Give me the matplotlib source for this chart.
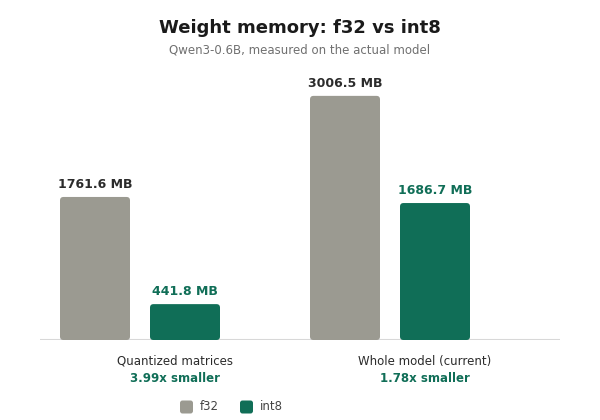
import matplotlib
matplotlib.use("Agg")
import matplotlib.pyplot as plt
from matplotlib.patches import FancyBboxPatch
import numpy as np

categories = ["Quantized matrices", "Whole model (current)"]
ratios = ["3.99x smaller", "1.78x smaller"]
series_names = ["f32", "int8"]
f32_values = [1761.6, 3006.5]
int8_values = [441.8, 1686.7]

GRAY = "#9b9a91"
GREEN = "#106e57"
DARK = "#2b2b2b"

W, H = 600, 420
fig = plt.figure(figsize=(6, 4.2), dpi=100)
# axes in pixel coordinates: left 40, right 560, baseline 340, top 70
ax = fig.add_axes([40 / W, (H - 340) / H, 520 / W, 270 / H])
ymax = 270 / 0.0812
ax.set_xlim(-0.4, 1.68)
ax.set_ylim(0, ymax)
for s in ax.spines.values():
    s.set_visible(False)
ax.set_xticks([])
ax.set_yticks([])
ax.axhline(0, color="#d8d8d8", lw=1.5, zorder=1)

x = np.arange(len(categories))
bw = 0.28
off = 0.18
px_x = 250.0  # px per x unit
px_y = 270 / ymax
aspect = (1 / px_y) / (1 / px_x)
r_px = 3.5

def rbar(xc, h, color):
    ax.add_patch(FancyBboxPatch((xc - bw / 2, 0), bw, h,
                                boxstyle=f"round,pad=0,rounding_size={r_px / px_x}",
                                mutation_aspect=aspect, fc=color, ec="none", zorder=2))

for i in range(len(categories)):
    rbar(x[i] - off, f32_values[i], GRAY)
    rbar(x[i] + off, int8_values[i], GREEN)
    ax.annotate(f"{f32_values[i]:.1f} MB", (x[i] - off, f32_values[i]), xytext=(0, 4.5),
                textcoords="offset points", ha="center", va="bottom",
                fontsize=9, fontweight="bold", color=DARK)
    ax.annotate(f"{int8_values[i]:.1f} MB", (x[i] + off, int8_values[i]), xytext=(0, 4.5),
                textcoords="offset points", ha="center", va="bottom",
                fontsize=9, fontweight="bold", color=GREEN)
    xc_fig = (40 + (x[i] + 0.4) * px_x + 35) / W
    fig.text(xc_fig, 1 - 361 / H, categories[i], ha="center", va="center",
             fontsize=8.5, color=DARK)
    fig.text(xc_fig, 1 - 378 / H, ratios[i], ha="center", va="center",
             fontsize=8.5, fontweight="bold", color=GREEN)

fig.text(0.5, 1 - 28 / H, "Weight memory: f32 vs int8", ha="center", va="center",
         fontsize=13, fontweight="bold", color="#1a1a1a")
fig.text(0.5, 1 - 50 / H, "Qwen3-0.6B, measured on the actual model", ha="center",
         va="center", fontsize=8.5, color="#707070")

# legend drawn in figure pixel space
leg_x = [180, 240]
for lx, name, c in zip(leg_x, series_names, (GRAY, GREEN)):
    fig.patches.append(FancyBboxPatch((lx / W, 1 - 413.5 / H), 13 / W, 13 / H,
                                      boxstyle=f"round,pad=0,rounding_size={2.5 / W}",
                                      mutation_aspect=W / H,
                                      fc=c, ec="none", transform=fig.transFigure,
                                      figure=fig))
    fig.text((lx + 20) / W, 1 - 407 / H, name, ha="left", va="center",
             fontsize=8.5, color="#444444")

fig.savefig("out.png", dpi=100)
